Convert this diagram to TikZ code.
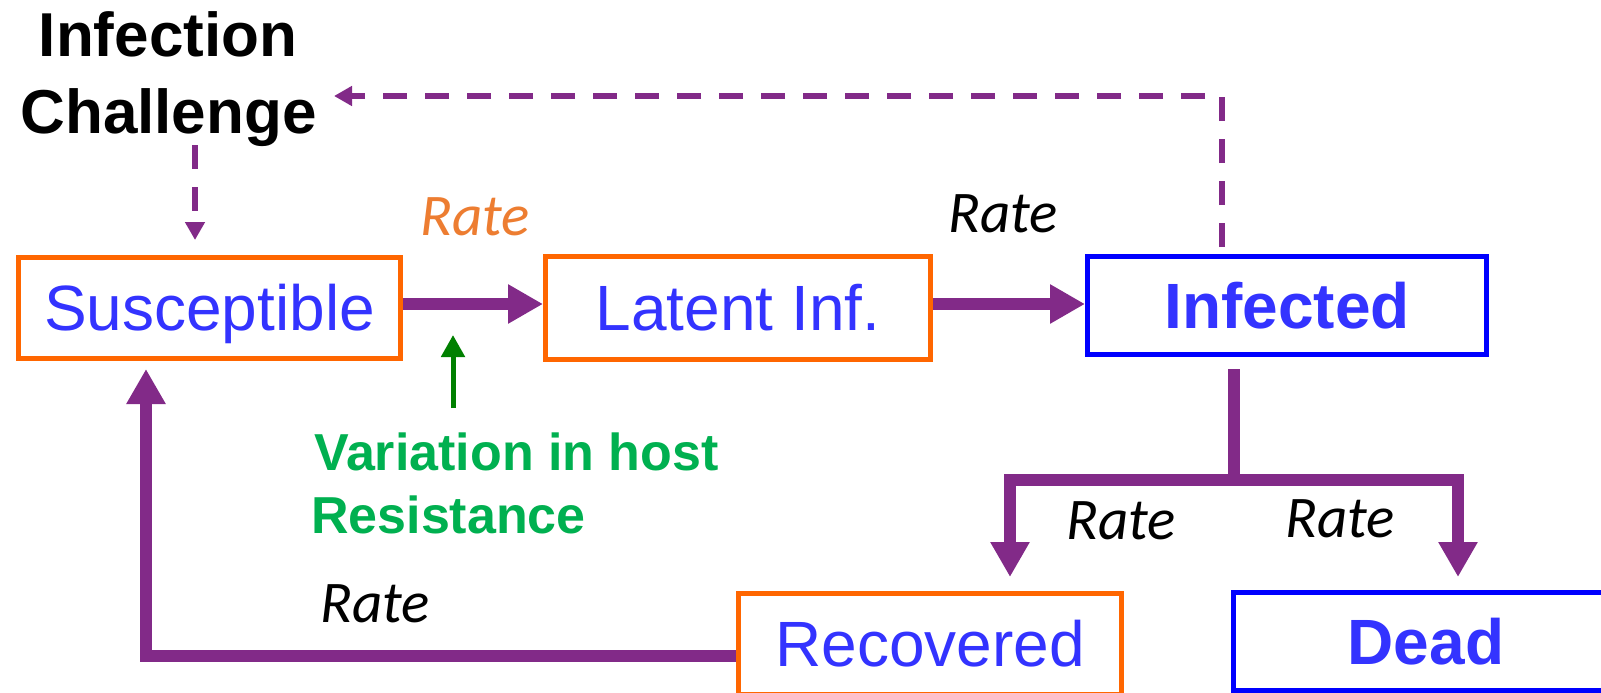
\documentclass[tikz,border=0pt]{standalone}
\usepackage{fontspec}
\setmainfont{Liberation Sans}
\newfontfamily\calib{Carlito}
\usetikzlibrary{arrows.meta}
\definecolor{boxorange}{RGB}{255,102,0}
\definecolor{txtblue}{RGB}{51,51,255}
\definecolor{pureblue}{RGB}{0,0,255}
\definecolor{purp}{RGB}{130,42,136}
\definecolor{greentxt}{RGB}{0,176,80}
\definecolor{darkgreen}{RGB}{0,128,0}
\definecolor{rateorange}{RGB}{237,125,49}
\begin{document}
\begin{tikzpicture}[x=1pt,y=-1pt,
  statebox/.style={draw, line width=5pt, inner sep=0pt, text=txtblue,
    font=\fontsize{64}{64}\selectfont, text height=45.8pt, text depth=0pt},
  orangebox/.style={statebox, draw=boxorange},
  bluebox/.style={statebox, draw=pureblue, font=\bfseries\fontsize{64}{64}\selectfont},
  flow/.style={draw=purp, line width=12pt, -{Triangle[length=35pt,width=37pt]}},
  trunk/.style={draw=purp, line width=12pt},
  dasharrow/.style={draw=purp, line width=6pt, dash pattern=on 24pt off 18pt,
    -{Triangle[length=18pt,width=19pt]}},
  gptr/.style={draw=darkgreen, line width=5pt, -{Triangle[length=22pt,width=23pt]}},
  ratelbl/.style={inner sep=0pt, anchor=base, font=\calib\itshape\fontsize{59}{59}\selectfont},
  titlelbl/.style={inner sep=0pt, anchor=base, font=\bfseries\fontsize{62}{62}\selectfont},
  greenlbl/.style={inner sep=0pt, anchor=base west, text=greentxt, font=\bfseries\fontsize{52}{52}\selectfont}
]
\clip (0,0) rectangle (1601,693);
\fill[white] (0,0) rectangle (1601,693);

% state boxes
\node[orangebox, minimum width=382pt, minimum height=101pt] (S) at (209.5,308) {Susceptible};
\node[orangebox, minimum width=385pt, minimum height=103pt] (L) at (738,308) {Latent Inf.};
\node[bluebox, minimum width=399pt, minimum height=98pt] (I) at (1287,305.5) {Infected};
\node[orangebox, minimum width=383pt, minimum height=101pt] (Rc) at (930,644) {Recovered};
\node[bluebox, minimum width=385pt, minimum height=98pt] (D) at (1426,641.5) {Dead};

% title
\node[titlelbl] (IC1) at (168,57) {Infection};
\node[titlelbl] (IC2) at (168.5,133) {Challenge};

% rate labels
\node[ratelbl, text=rateorange] (r1) at (475,235) {Rate};
\node[ratelbl] (r2) at (1003,232) {Rate};
\node[ratelbl] (r3) at (1121,539) {Rate};
\node[ratelbl] (r4) at (1340,537) {Rate};
\node[ratelbl] (r5) at (375,622) {Rate};

% host resistance
\node[greenlbl] (VH1) at (314,470) {Variation in host};
\node[greenlbl] (VH2) at (311,533) {Resistance};

% coordinates for free ends
\coordinate (icdrop) at (195,145);
\coordinate (ictip) at (334,96);
\coordinate (br) at (1234,480);
\coordinate (gstart) at (453,408);
\coordinate (gtip) at (453,335);

% connectors
\draw[dasharrow] (icdrop) -- ([xshift=-14.5pt,yshift=15pt]S.north);
\draw[dasharrow] ([xshift=-65pt,yshift=7pt]I.north) |- (ictip);
\draw[flow] ([yshift=4pt]S.east) -- ([yshift=4pt]L.west);
\draw[flow] ([yshift=4pt]L.east) -- ([yshift=1.5pt]I.west);
\draw[trunk] ([xshift=-53pt,yshift=-12pt]I.south) -- (br);
\draw[flow] (br) -| ([xshift=80pt,yshift=14pt]Rc.north);
\draw[flow] (br) -| ([xshift=32pt,yshift=13pt]D.north);
\draw[flow] ([yshift=-12pt]Rc.west) -| ([xshift=-63.5pt,yshift=-8pt]S.south);
\draw[gptr] (gstart) -- (gtip);
\end{tikzpicture}
\end{document}
